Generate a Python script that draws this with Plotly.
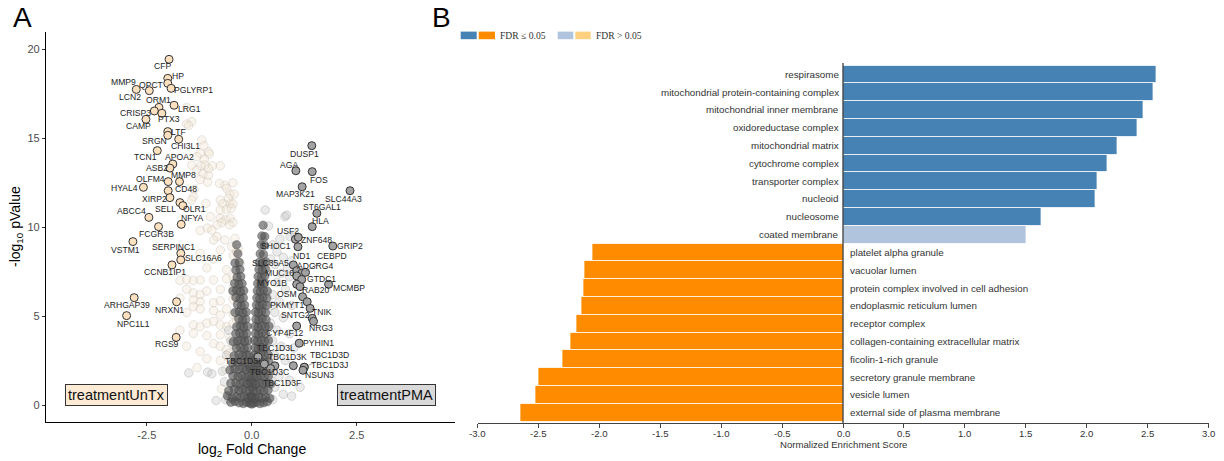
import plotly.graph_objects as go

W, H = 1224, 461
FONT = "Liberation Sans, Arial, sans-serif"

# ---------------- Panel A: volcano plot ----------------
gene_names = [
    "CFP", "HP", "QPCT", "PGLYRP1", "MMP9", "LCN2", "ORM1", "LRG1", "CRISP3", "PTX3",
    "CAMP", "LTF", "SRGN", "CHI3L1", "TCN1", "APOA2", "ASB2", "OLFM4", "MMP8", "HYAL4",
    "CD48", "XIRP2", "SELL", "OLR1", "ABCC4", "NFYA", "FCGR3B", "VSTM1", "SERPINC1",
    "SLC16A6", "CCNB1IP1", "ARHGAP39", "NRXN1", "NPC1L1", "RGS9",
    "DUSP1", "AGA", "FOS", "MAP3K21", "SLC44A3", "ST6GAL1", "HLA", "USF2", "ZNF648",
    "SHOC1", "GRIP2", "SLC35A5", "ND1", "CEBPD", "ADGRG4", "MUC16", "GTDC1", "MYO1B",
    "RAB20", "MCMBP", "OSM", "PKMYT1", "TNIK", "SNTG2", "NRG3", "CYP4F12", "PYHIN1",
    "TBC1D3L", "TBC1D3I", "TBC1D3K", "TBC1D3D", "TBC1D3J", "TBC1D3C", "NSUN3", "TBC1D3F",
]
gene_lfc = [
    -1.97, -2.00, -2.00, -1.92, -2.75, -2.44, -2.21, -1.85, -2.32, -2.14,
    -2.52, -2.00, -2.00, -1.74, -2.25, -1.88, -1.95, -1.99, -1.72, -2.58,
    -1.99, -1.95, -1.71, -1.64, -2.45, -1.68, -2.22, -2.83, -1.69,
    -1.69, -1.90, -2.80, -1.79, -2.98, -1.80,
    1.43, 1.05, 1.44, 1.20, 2.34, 1.55, 1.44, 1.04, 1.11,
    1.10, 1.93, 0.99, 1.07, 1.19, 1.28, 1.07, 1.19, 1.07,
    1.15, 1.83, 1.21, 1.32, 1.39, 1.44, 1.47, 1.07, 1.13,
    0.15, 0.30, 0.99, 1.25, 1.25, 0.55, 1.22, 0.45,
]
gene_nlp = [
    19.42, 18.35, 18.07, 17.79, 17.73, 17.66, 16.72, 16.84, 16.52, 16.39,
    16.05, 15.36, 15.15, 14.93, 14.29, 13.54, 13.31, 12.55, 12.55, 12.23,
    12.04, 11.65, 11.37, 11.20, 10.54, 10.15, 10.02, 9.18, 8.52,
    8.15, 7.87, 6.03, 5.80, 5.02, 3.80,
    14.57, 13.16, 13.11, 12.26, 12.04, 10.77, 10.02, 9.31, 9.42,
    8.89, 8.93, 7.87, 7.55, 7.40, 7.45, 7.25, 7.05, 6.78,
    6.65, 6.78, 6.08, 5.80, 5.43, 4.87, 4.70, 4.44, 3.47,
    2.70, 2.30, 2.21, 2.12, 2.12, 2.20, 1.95, 2.05,
]

# tag placement (pixels right / down from the point)
label_dx = [
    -7, 10, -16, 22, -13, -19, 0, 15, -19, 7,
    -7, 11, -13, 7, -12, 7, -13, -18, 4, -19,
    18, -15, -14, 12, -17, 11, -2, -7, -7,
    23, -7, -7, -7, 7, -9,
    -7, -7, 7, -7, -7, 5, 8, -7, 18,
    -22, 17, -23, 5, 30, 10, -17, 20, -25,
    15, 20, -16, -20, 12, -17, 8, -12, 19,
    18, -22, -6, 25, 25, -5, 17, 11,
]
label_dy = [
    7, -2, 2, 2, -7, 6, -7, 4, 2, 6,
    7, 0, 6, 7, 6, -7, 0, -3, -7, 1,
    -2, 1, 6, 3, -6, -6, 7, 8, -6,
    -2, 7, 7, 8, 8, 7,
    8, -6, 8, 7, 8, -6, -6, -8, 3,
    -1, 0, -2, -15, -17, -6, -3, -1, -1,
    3, 4, -3, 3, 4, -3, 7, 7, 0,
    -9, -3, -9, -12, -2, 6, 5, 14,
]
segment_genes = {"CEBPD", "TBC1D3D", "TBC1D3J", "TBC1D3F", "TBC1D3I", "ND1"}

beige_pts = [
    (-1.55, 16.72), (-1.43, 15.92), (-1.55, 15.79), (-1.50, 15.70), (-1.19, 14.89), (-1.14, 14.57),
    (-1.03, 14.23), (-1.23, 14.14), (-1.01, 14.10), (-1.31, 13.95), (-1.13, 13.80), (-1.43, 13.48),
    (-1.21, 13.44), (-1.11, 13.48), (-0.94, 13.44), (-0.75, 13.44), (-1.31, 13.20), (-1.03, 13.27),
    (-1.16, 12.99), (-1.03, 12.90), (-1.23, 12.67), (-1.05, 12.52), (-0.77, 12.45), (-0.64, 12.34),
    (-0.45, 12.49), (-0.60, 12.17), (-0.52, 11.85), (-0.42, 11.85), (-1.37, 12.11), (-1.39, 11.71),
    (-1.43, 11.52), (-1.09, 11.33), (-0.75, 11.52), (-0.55, 11.61), (-0.69, 11.30), (-0.52, 11.30),
    (-0.45, 11.30), (-0.75, 10.96), (-0.60, 11.00), (-0.49, 11.05), (-0.98, 10.58), (-0.75, 10.49),
    (-0.63, 10.40), (-0.51, 10.49), (-0.45, 10.25), (-0.72, 10.25), (-0.83, 10.12), (-0.53, 10.12),
    (-1.06, 9.94), (-0.83, 9.46), (-0.64, 9.27), (-0.40, 9.36), (-0.48, 8.90), (-0.32, 8.80),
    (-0.75, 8.70), (-0.28, 7.96), (-0.95, 9.83), (-1.23, 9.80), (-0.91, 9.27), (-1.23, 8.52),
    (-0.91, 8.20), (-0.44, 8.40), (-0.36, 8.60), (-0.60, 7.60), (-1.07, 7.70), (-1.71, 7.00),
    (-1.55, 7.05), (-1.39, 7.00), (-1.23, 7.02), (-0.91, 7.02), (-0.60, 7.10), (-0.44, 7.20),
    (-1.55, 6.50), (-1.39, 6.30), (-1.23, 6.20), (-1.07, 6.40), (-0.75, 6.50), (-0.44, 6.60),
    (-1.71, 6.00), (-1.39, 5.90), (-1.23, 5.80), (-0.91, 5.75), (-0.75, 5.85), (-0.44, 5.95),
    (-0.36, 6.10), (-1.39, 5.52), (-1.23, 5.40), (-0.91, 5.30), (-0.60, 5.40), (-1.55, 5.20),
    (-0.75, 5.05), (-0.44, 5.10), (-1.71, 4.20), (-1.39, 4.50), (-1.23, 4.40), (-1.07, 4.60),
    (-0.91, 4.70), (-0.75, 4.50), (-0.60, 4.40), (-0.44, 4.60), (-0.36, 4.75), (-1.39, 4.03),
    (-1.07, 3.90), (-0.75, 3.95), (-0.52, 3.80), (-1.55, 3.30), (-0.91, 3.45), (-0.75, 3.30),
    (-0.44, 3.40), (-1.23, 3.00), (-0.60, 3.10), (-1.07, 2.60), (-0.75, 2.50), (-0.52, 2.60),
    (-0.42, 2.20), (-0.38, 1.50), (-0.72, 0.90), (-1.30, 2.10), (-0.62, 2.00), (-0.55, 2.90),
]
grey_pts = [
    (0.32, 10.96), (0.79, 10.58), (0.83, 10.67), (0.40, 10.06), (0.28, 9.17), (0.67, 9.33),
    (0.91, 9.46), (1.03, 9.55), (0.50, 9.00), (0.60, 8.60), (0.75, 8.30), (0.95, 8.10),
    (0.85, 7.70), (0.55, 7.90), (0.45, 8.20), (0.70, 7.40), (0.90, 7.20), (0.60, 6.90),
    (0.80, 6.50), (0.50, 6.20), (0.65, 5.80), (0.95, 5.60), (0.55, 5.20), (0.75, 4.90),
    (0.45, 4.60), (0.60, 4.20), (0.90, 4.00), (0.50, 3.60), (0.70, 3.30), (1.00, 3.20),
    (0.55, 2.80), (0.80, 2.50), (0.50, 2.00), (0.65, 1.60), (0.90, 1.40), (0.55, 1.00),
    (0.75, 0.60), (0.95, 0.50), (0.50, 0.30), (1.15, 1.00), (0.45, 1.40), (0.48, 5.60),
    (-1.05, 1.85), (-0.95, 1.75), (-0.65, 1.30), (-0.85, 0.25), (-0.55, 0.35), (-0.40, 0.75),
    (-0.70, 1.90), (-0.60, 2.80), (-0.50, 3.60), (-0.55, 4.20), (-0.62, 0.30), (-1.50, 1.80),
]
core_pts = [
    (-0.05, 0.10), (-0.12, 0.15), (-0.20, 0.08), (-0.30, 0.12), (-0.40, 0.20), (-0.50, 0.15),
    (-0.03, 0.45), (-0.10, 0.40), (-0.18, 0.50), (-0.27, 0.42), (-0.36, 0.48), (-0.47, 0.40), (-0.58, 0.52),
    (-0.06, 0.85), (-0.14, 0.80), (-0.22, 0.90), (-0.31, 0.82), (-0.42, 0.88), (-0.55, 0.80),
    (-0.04, 1.25), (-0.11, 1.20), (-0.19, 1.28), (-0.28, 1.18), (-0.38, 1.25), (-0.50, 1.22),
    (-0.07, 1.62), (-0.15, 1.58), (-0.24, 1.66), (-0.33, 1.60), (-0.45, 1.64),
    (-0.05, 2.02), (-0.13, 1.98), (-0.21, 2.06), (-0.30, 2.00), (-0.41, 2.04), (-0.52, 1.96),
    (-0.08, 2.42), (-0.16, 2.38), (-0.25, 2.45), (-0.35, 2.40), (-0.46, 2.36),
    (-0.07, 2.80), (-0.14, 2.84), (-0.22, 2.78), (-0.31, 2.82), (-0.42, 2.76),
    (-0.10, 3.22), (-0.18, 3.18), (-0.27, 3.24), (-0.37, 3.20),
    (-0.09, 3.62), (-0.17, 3.58), (-0.25, 3.64), (-0.34, 3.60), (-0.44, 3.56),
    (-0.12, 4.02), (-0.20, 3.98), (-0.29, 4.04), (-0.38, 4.00),
    (-0.11, 4.42), (-0.19, 4.38), (-0.27, 4.44), (-0.36, 4.40),
    (-0.14, 4.82), (-0.22, 4.78), (-0.31, 4.84),
    (-0.13, 5.22), (-0.21, 5.18), (-0.30, 5.24), (-0.40, 5.20),
    (-0.17, 5.62), (-0.25, 5.58), (-0.34, 5.64),
    (-0.20, 6.02), (-0.28, 5.98), (-0.38, 6.04),
    (-0.19, 6.42), (-0.27, 6.38), (-0.36, 6.44), (-0.45, 6.40),
    (-0.23, 6.82), (-0.31, 6.78), (-0.41, 6.84),
    (-0.26, 7.22), (-0.35, 7.18), (-0.28, 7.62), (-0.38, 7.58),
    (-0.30, 8.02), (-0.40, 7.98), (-0.33, 8.50), (-0.36, 9.00),
    (0.00, 0.05), (0.00, 0.50), (0.01, 1.00), (-0.01, 1.50), (0.00, 2.00), (0.01, 2.50),
    (0.04, 0.10), (0.11, 0.15), (0.19, 0.08), (0.28, 0.12), (0.37, 0.18),
    (0.02, 0.42), (0.09, 0.38), (0.16, 0.45), (0.24, 0.40), (0.33, 0.44), (0.43, 0.38),
    (0.05, 0.82), (0.12, 0.78), (0.20, 0.85), (0.29, 0.80), (0.39, 0.84),
    (0.03, 1.22), (0.10, 1.18), (0.18, 1.25), (0.26, 1.20), (0.35, 1.24), (0.45, 1.18),
    (0.06, 1.62), (0.13, 1.58), (0.21, 1.64), (0.30, 1.60), (0.40, 1.63),
    (0.05, 2.02), (0.12, 1.98), (0.20, 2.04), (0.28, 2.00), (0.37, 2.03),
    (0.07, 2.42), (0.14, 2.38), (0.22, 2.44), (0.31, 2.40), (0.41, 2.43),
    (0.06, 2.82), (0.13, 2.78), (0.21, 2.84), (0.30, 2.80), (0.39, 2.83),
    (0.08, 3.22), (0.15, 3.18), (0.23, 3.24), (0.32, 3.20),
    (0.07, 3.62), (0.14, 3.58), (0.22, 3.64), (0.31, 3.60), (0.40, 3.63),
    (0.09, 4.02), (0.16, 3.98), (0.24, 4.04), (0.33, 4.00),
    (0.08, 4.42), (0.15, 4.38), (0.23, 4.44), (0.32, 4.40), (0.41, 4.43),
    (0.10, 4.82), (0.17, 4.78), (0.25, 4.84), (0.34, 4.80),
    (0.09, 5.22), (0.16, 5.18), (0.24, 5.24), (0.33, 5.20),
    (0.11, 5.62), (0.18, 5.58), (0.26, 5.64), (0.35, 5.60),
    (0.12, 6.02), (0.19, 5.98), (0.27, 6.04), (0.36, 6.00),
    (0.13, 6.42), (0.20, 6.38), (0.28, 6.44), (0.37, 6.40),
    (0.14, 6.82), (0.22, 6.78), (0.30, 6.84),
    (0.15, 7.22), (0.23, 7.18), (0.31, 7.24),
    (0.17, 7.62), (0.25, 7.58), (0.33, 7.64),
    (0.18, 8.02), (0.26, 7.98), (0.34, 8.04),
    (0.20, 8.50), (0.28, 8.46), (0.22, 9.00), (0.30, 8.96),
    (0.24, 9.50), (0.31, 9.46), (0.27, 10.10),
]

# ---------------- Panel B: enrichment bars ----------------
go_terms = [
    "respirasome", "mitochondrial protein-containing complex", "mitochondrial inner membrane",
    "oxidoreductase complex", "mitochondrial matrix", "cytochrome complex", "transporter complex",
    "nucleoid", "nucleosome", "coated membrane", "platelet alpha granule", "vacuolar lumen",
    "protein complex involved in cell adhesion", "endoplasmic reticulum lumen", "receptor complex",
    "collagen-containing extracellular matrix", "ficolin-1-rich granule",
    "secretory granule membrane", "vesicle lumen", "external side of plasma membrane",
]
nes = [2.57, 2.55, 2.47, 2.42, 2.25, 2.17, 2.09, 2.07, 1.63, 1.51,
       -2.06, -2.12, -2.13, -2.15, -2.19, -2.24, -2.30, -2.50, -2.52, -2.65]
fdr_sig = [True] * 9 + [False] + [True] * 10
nes_ticks = [-3.0, -2.5, -2.0, -1.5, -1.0, -0.5, 0.0, 0.5, 1.0, 1.5, 2.0, 2.5, 3.0]
nes_tick_text = ["-3.0", "-2.5", "-2.0", "-1.5", "-1.0", "-0.5", "0.0",
                 "0.5", "1.0", "1.5", "2.0", "2.5", "3.0"]

BLUE, ORANGE, LBLUE, LORANGE = "#4682B4", "#FF8C00", "#B0C4DE", "#FFD17F"


def px(xp):
    return xp / W


def py(yp):
    return 1 - yp / H


def paper_text(x, y, text, size, family=FONT, color="#000000", xanchor="center", **kw):
    return dict(x=px(x), y=py(y), xref="paper", yref="paper", text=text, showarrow=False,
                xanchor=xanchor, yanchor="middle",
                font=dict(family=family, size=size, color=color), **kw)


fig = go.Figure()

# background point clouds
for pts, fill, edge in [
    (beige_pts, "rgba(242,228,210,0.35)", "rgba(185,175,165,0.45)"),
    (grey_pts, "rgba(190,190,190,0.3)", "rgba(145,145,145,0.45)"),
    (core_pts, "rgba(80,80,80,0.62)", "rgba(70,70,70,0.5)"),
]:
    fig.add_trace(go.Scatter(
        x=[p[0] for p in pts], y=[p[1] for p in pts], mode="markers",
        marker=dict(size=8.5, color=fill, line=dict(color=edge, width=0.7)),
        xaxis="x", yaxis="y", hoverinfo="skip", showlegend=False))

# highlighted genes
fig.add_trace(go.Scatter(
    x=gene_lfc, y=gene_nlp, mode="markers", text=gene_names,
    marker=dict(size=8,
                color=["#FBE1C0" if v < 0 else "#A3A3A3" for v in gene_lfc],
                line=dict(color="#333333", width=1)),
    xaxis="x", yaxis="y", showlegend=False, hovertemplate="%{text}<extra></extra>"))

annotations = []
for name, gx, gy, dx, dy in zip(gene_names, gene_lfc, gene_nlp, label_dx, label_dy):
    common = dict(x=gx, y=gy, xref="x", yref="y", text=name,
                  font=dict(family=FONT, size=8.6, color="#222222"))
    if name in segment_genes:
        annotations.append(dict(**common, showarrow=True, ax=dx, ay=dy, arrowhead=0,
                                arrowwidth=0.6, arrowcolor="#666666", standoff=4))
    else:
        annotations.append(dict(**common, showarrow=False, xshift=dx, yshift=-dy))

# condition boxes
for txt, bx, bg in [("treatmentUnTx", -3.22, "#FDEBD5"), ("treatmentPMA", 3.2, "#D9D9D9")]:
    annotations.append(dict(x=bx, y=0.56, xref="x", yref="y", text=txt, showarrow=False,
                            xanchor="center", yanchor="middle",
                            font=dict(family=FONT, size=14.5, color="#111111"),
                            bgcolor=bg, bordercolor="#333333", borderwidth=1, borderpad=2))

# axis titles for panel A
annotations.append(paper_text(252, 450, "log<sub>2</sub> Fold Change", 14))
annotations.append(paper_text(16, 227, "-log<sub>10</sub> pValue", 14, textangle=-90))

# panel letters
annotations.append(paper_text(22, 18, "A", 28))
annotations.append(paper_text(441, 18, "B", 28))

# ---- panel B bars ----
bar_colors = []
for v, s in zip(nes, fdr_sig):
    if v >= 0:
        bar_colors.append(BLUE if s else LBLUE)
    else:
        bar_colors.append(ORANGE if s else LORANGE)

fig.add_trace(go.Bar(
    x=nes, y=go_terms, orientation="h", xaxis="x2", yaxis="y2",
    marker=dict(color=bar_colors, line=dict(color="rgba(255,255,255,0.75)", width=1)),
    showlegend=False, hovertemplate="%{y}: %{x}<extra></extra>"))

for term, v in zip(go_terms, nes):
    if v >= 0:
        annotations.append(dict(x=0, y=term, xref="x2", yref="y2", text=term, showarrow=False,
                                xanchor="right", yanchor="middle", xshift=-2,
                                font=dict(family=FONT, size=9.8, color="#333333")))
    else:
        annotations.append(dict(x=0, y=term, xref="x2", yref="y2", text=term, showarrow=False,
                                xanchor="left", yanchor="middle", xshift=5,
                                font=dict(family=FONT, size=9.8, color="#333333")))

NARROW = "Liberation Sans Narrow, Arial Narrow, " + FONT
# tick labels of the NES axis
for tv, tt in zip(nes_ticks, nes_tick_text):
    annotations.append(dict(x=tv, y=py(433), xref="x2", yref="paper", text=tt,
                            showarrow=False, xanchor="center", yanchor="middle",
                            font=dict(family=NARROW, size=9.6, color="#333333")))
annotations.append(paper_text(843, 444.5, "Normalized Enrichment Score", 9.6,
                              family=NARROW, color="#333333"))

# legend of panel B
shapes = []
for x0, x1, col in [(460.7, 476.7, BLUE), (478.7, 495.0, ORANGE),
                    (557.7, 573.3, LBLUE), (575.3, 590.7, LORANGE)]:
    shapes.append(dict(type="rect", xref="paper", yref="paper",
                       x0=px(x0), x1=px(x1), y0=py(39.2), y1=py(31.6),
                       fillcolor=col, line=dict(width=0)))
SERIF = "Liberation Serif, Times New Roman, serif"
annotations.append(paper_text(497.5, 35.5, "FDR ≤ 0.05", 9.6, family=SERIF,
                              color="#333333", xanchor="left"))
annotations.append(paper_text(593.5, 35.5, "FDR > 0.05", 9.6, family=SERIF,
                              color="#333333", xanchor="left"))

# zero line of panel B
shapes.append(dict(type="line", xref="x2", yref="paper", x0=0, x1=0,
                   y0=py(423), y1=py(63), line=dict(color="#000000", width=1), layer="above"))

fig.update_layout(
    width=W, height=H, margin=dict(l=0, r=0, t=0, b=0),
    paper_bgcolor="white", plot_bgcolor="white",
    bargap=0, showlegend=False,
    font=dict(family=FONT),
    annotations=annotations, shapes=shapes,
    xaxis=dict(domain=[px(46), px(455)], range=[-4.9, 4.84], anchor="y",
               showline=True, linecolor="#000000", linewidth=1.3, showgrid=False,
               zeroline=False, ticks="outside", ticklen=3, tickcolor="#333333",
               tickvals=[-2.5, 0, 2.5], ticktext=["-2.5", "0.0", "2.5"],
               tickfont=dict(family=FONT, size=11, color="#4D4D4D")),
    yaxis=dict(domain=[py(422), py(32)], range=[-0.955, 20.955], anchor="x",
               showline=True, linecolor="#000000", linewidth=1.3, showgrid=False,
               zeroline=False, ticks="outside", ticklen=3, tickcolor="#333333",
               tickvals=[0, 5, 10, 15, 20], ticktext=["0", "5", "10", "15", "20"],
               tickfont=dict(family=FONT, size=11, color="#4D4D4D")),
    xaxis2=dict(domain=[px(477.5), px(1208.5)], range=[-3, 3], anchor="y2",
                showline=True, linecolor="#444444", linewidth=1, showgrid=False,
                zeroline=False, ticks="outside", ticklen=4, tickcolor="#444444",
                tickvals=nes_ticks, showticklabels=False),
    yaxis2=dict(domain=[py(423), py(65)], type="category", categoryorder="array",
                categoryarray=go_terms, range=[19.584, -0.528], anchor="x2",
                visible=False, showgrid=False),
)

fig.write_html("out.html")
